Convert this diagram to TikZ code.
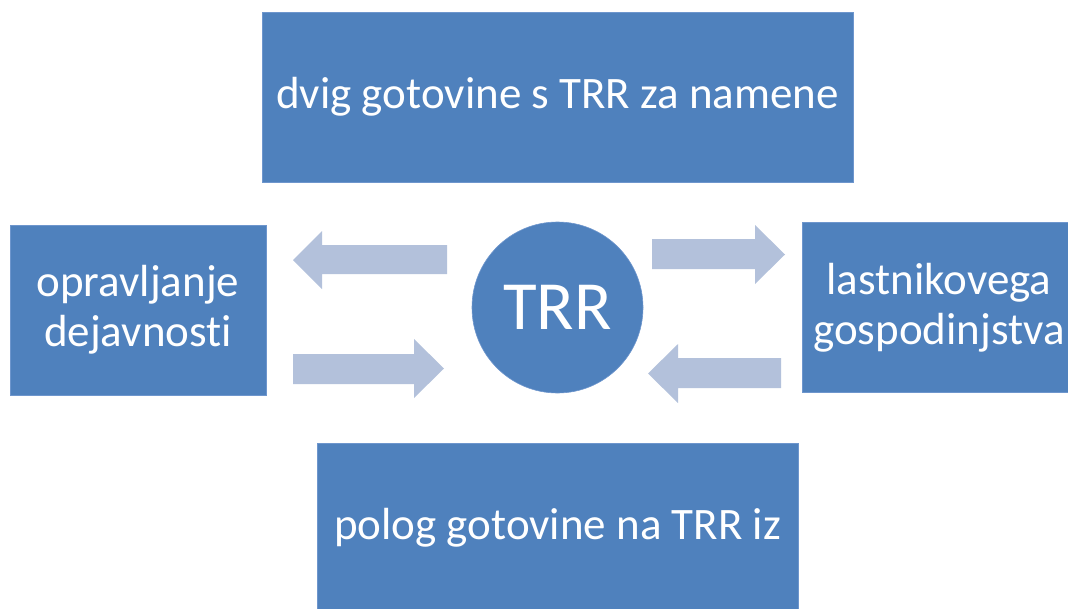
\documentclass[tikz,border=0pt]{standalone}
\usepackage{fontspec}
\setmainfont{Carlito}[Ligatures={NoCommon,NoRare}]
\definecolor{boxblue}{RGB}{79,129,189}
\definecolor{boxedge}{RGB}{110,150,205}
\definecolor{arrowblue}{RGB}{179,193,219}
\begin{document}
\begin{tikzpicture}[x=1pt,y=-1pt,
  box/.style={fill=boxblue, draw=boxedge, line width=0.6pt, text=white, inner sep=0pt,
    align=center, font=\fontsize{45}{50}\selectfont},
  flow/.style={fill=arrowblue}]
\useasboundingbox (0,0) rectangle (1068,608);
\clip (0,0) rectangle (1068,608);
\node[box, minimum width=591pt, minimum height=170pt] (top) at (557.5,97) {dvig gotovine s TRR za namene};
\node[box, minimum width=256pt, minimum height=170pt] (left) at (138,310) {opravljanje\\dejavnosti};
\node[box, minimum width=274pt, minimum height=170pt] (right) at (939,307.5) {lastnikovega\\gospodinjstva};
\node[box, minimum width=481pt, minimum height=170pt] (bottom) at (557.5,528) {polog gotovine na TRR iz};
\node[box, circle, minimum size=171pt, font=\fontsize{69}{80}\selectfont] (trr) at (557.5,307.5) {TRR};
% block arrows
\fill[flow] (447,245) -- (322,245) -- (322,231) -- (293,260) -- (322,289) -- (322,274) -- (447,274) -- cycle;
\fill[flow] (293,354) -- (414,354) -- (414,339) -- (444,368.5) -- (414,398) -- (414,384) -- (293,384) -- cycle;
\fill[flow] (652,239) -- (755,239) -- (755,225) -- (785,254.5) -- (755,284) -- (755,269) -- (652,269) -- cycle;
\fill[flow] (781,358) -- (678,358) -- (678,344) -- (648,373.5) -- (678,403) -- (678,388) -- (781,388) -- cycle;
\end{tikzpicture}
\end{document}
